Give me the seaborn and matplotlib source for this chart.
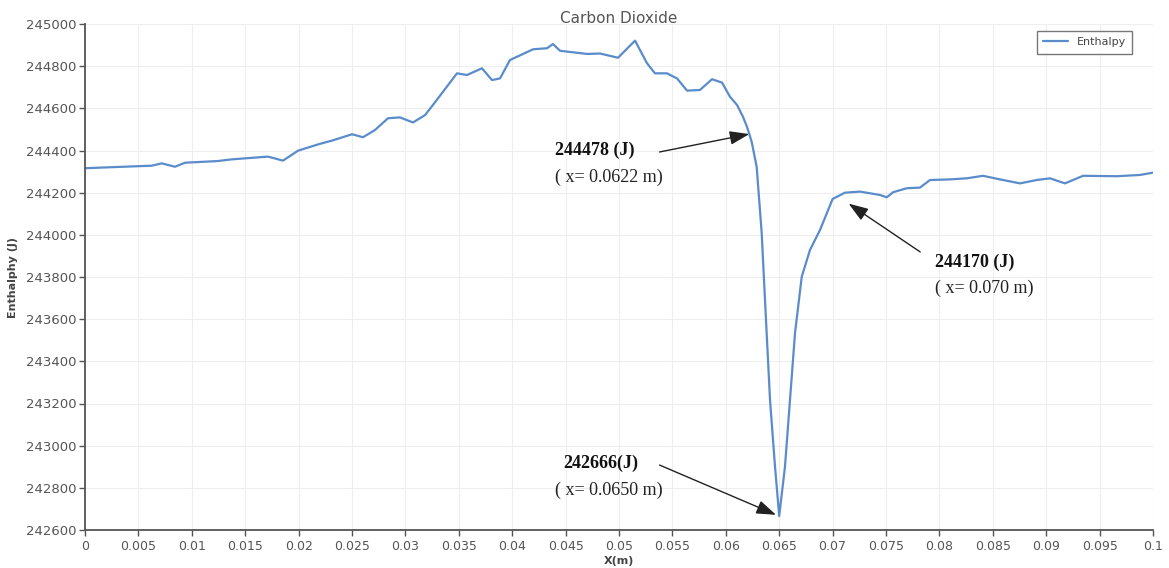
import numpy as np
import pandas as pd
import matplotlib
matplotlib.use("Agg")
import matplotlib.pyplot as plt
import seaborn as sns

# Enthalpy profile of carbon dioxide along the channel
x_m = [0.0, 0.00625, 0.00718, 0.00843, 0.00936, 0.01245, 0.01374, 0.01713,
       0.01854, 0.01994, 0.02182, 0.02313, 0.0250, 0.02603, 0.02715, 0.02837,
       0.02949, 0.03071, 0.03184, 0.03258, 0.03483, 0.03577, 0.03717, 0.03811,
       0.03886, 0.03979, 0.04195, 0.04326, 0.04382, 0.04448, 0.04700, 0.04822,
       0.04991, 0.05150, 0.05262, 0.05337, 0.05449, 0.05543, 0.05637, 0.05758,
       0.05871, 0.05965, 0.06039, 0.06105, 0.06161, 0.0620, 0.0622, 0.06243,
       0.06289, 0.06336, 0.06367, 0.06414, 0.06461, 0.0650, 0.06554, 0.06601,
       0.06648, 0.06711, 0.06788, 0.06882, 0.0700, 0.07116, 0.07257, 0.07444,
       0.07507, 0.07566, 0.07694, 0.07818, 0.07912, 0.08099, 0.08256, 0.08408,
       0.08567, 0.08755, 0.08911, 0.09036, 0.09176, 0.09345, 0.09660, 0.09878,
       0.1]
enthalpy_j = [244316, 244328, 244339, 244323, 244342, 244350, 244358, 244371,
              244352, 244399, 244429, 244447, 244477, 244463, 244497, 244553,
              244557, 244533, 244568, 244616, 244766, 244758, 244790, 244734,
              244742, 244829, 244880, 244885, 244905, 244873, 244858, 244860,
              244840, 244921, 244814, 244766, 244766, 244742, 244684, 244687,
              244738, 244722, 244655, 244616, 244560, 244510, 244478, 244440,
              244323, 244009, 243691, 243217, 242900, 242666, 242900, 243217,
              243534, 243801, 243928, 244023, 244170, 244200, 244205, 244189,
              244178, 244202, 244221, 244224, 244260, 244263, 244268, 244280,
              244263, 244244, 244260, 244268, 244244, 244280, 244278, 244284,
              244295]

x_ticks = np.round(np.arange(0, 0.1001, 0.005), 3)
x_tick_labels = ["0", "0.005", "0.01", "0.015", "0.02", "0.025", "0.03", "0.035",
                 "0.04", "0.045", "0.05", "0.055", "0.06", "0.065", "0.07",
                 "0.075", "0.08", "0.085", "0.09", "0.095", "0.1"]
y_ticks = list(range(242600, 245001, 200))

# Annotated points: (x, value, label line 1, label line 2)
callouts = [
    (0.0622, 244478, "244478 (J)", "( x= 0.0622 m)"),
    (0.0700, 244170, "244170 (J)", "( x= 0.070 m)"),
    (0.0650, 242666, "242666(J)", "( x= 0.0650 m)"),
]

df = pd.DataFrame({"X(m)": x_m, "Enthalpy": enthalpy_j})

sns.set_theme(style="white")
plt.rcParams["font.family"] = ["DejaVu Sans"]

fig = plt.figure(figsize=(11.69, 5.68), dpi=100)
ax = fig.add_axes([85 / 1169, 1 - 530 / 568, (1153 - 85) / 1169, (530 - 24) / 568])

sns.lineplot(data=df, x="X(m)", y="Enthalpy", ax=ax, color="#5a8ccc",
             linewidth=1.6, label="Enthalpy", estimator=None, sort=False)

ax.set_xlim(0, 0.1)
ax.set_ylim(242600, 245000)
ax.set_xticks(x_ticks)
ax.set_xticklabels(x_tick_labels)
ax.set_yticks(y_ticks)
ax.set_yticklabels([str(v) for v in y_ticks])

ax.grid(True, color="#eeeeee", linewidth=0.8)
for side in ("top", "right"):
    ax.spines[side].set_visible(False)
for side in ("left", "bottom"):
    ax.spines[side].set_color("#555555")
    ax.spines[side].set_linewidth(1.3)

ax.tick_params(axis="both", direction="out", length=4, width=1, color="#555555",
               colors="#555555", left=True, bottom=True)
ax.tick_params(axis="x", labelsize=9, pad=3)
ax.tick_params(axis="y", labelsize=9.5, pad=2)

ax.set_title("Carbon Dioxide", fontsize=11, color="#555555", pad=1)
ax.set_xlabel("X(m)", fontsize=8, fontweight="bold", color="#444444", labelpad=2)
ax.set_ylabel("Enthalphy (J)", fontsize=8, fontweight="bold", color="#444444", labelpad=6)

leg = ax.legend(loc="upper right", bbox_to_anchor=(0.986, 0.998), fontsize=8,
                frameon=True, fancybox=False, handlelength=2.2, borderpad=0.6,
                labelcolor="#444444")
leg.get_frame().set_edgecolor("#555555")
leg.get_frame().set_linewidth(1.0)

# Text placement and arrow tails for each callout
label_pos = [(0.0440, 244402, 0.0440, 244274, 0.0538, 244393, 0.0622, 244478),
             (0.0796, 243871, 0.0796, 243748, 0.0782, 243919, 0.0715, 244148),
             (0.0448, 242918, 0.0440, 242790, 0.0538, 242908, 0.0647, 242672)]

serif = ["Liberation Serif", "DejaVu Serif"]
for (px, pv, l1, l2), (tx1, ty1, tx2, ty2, ax0, ay0, hx, hy) in zip(callouts, label_pos):
    ax.text(tx1, ty1, l1, fontsize=13, fontweight="bold", family=serif,
            color="#111111", va="center", ha="left")
    ax.text(tx2, ty2, l2, fontsize=13, family=serif, color="#222222",
            va="center", ha="left")
    ax.annotate("", xy=(hx, hy), xytext=(ax0, ay0),
                arrowprops=dict(arrowstyle="-|>,head_length=1.0,head_width=0.35",
                                color="#222222", lw=1.0, shrinkA=0, shrinkB=0))

fig.savefig("out.png", dpi=100, facecolor="white")
